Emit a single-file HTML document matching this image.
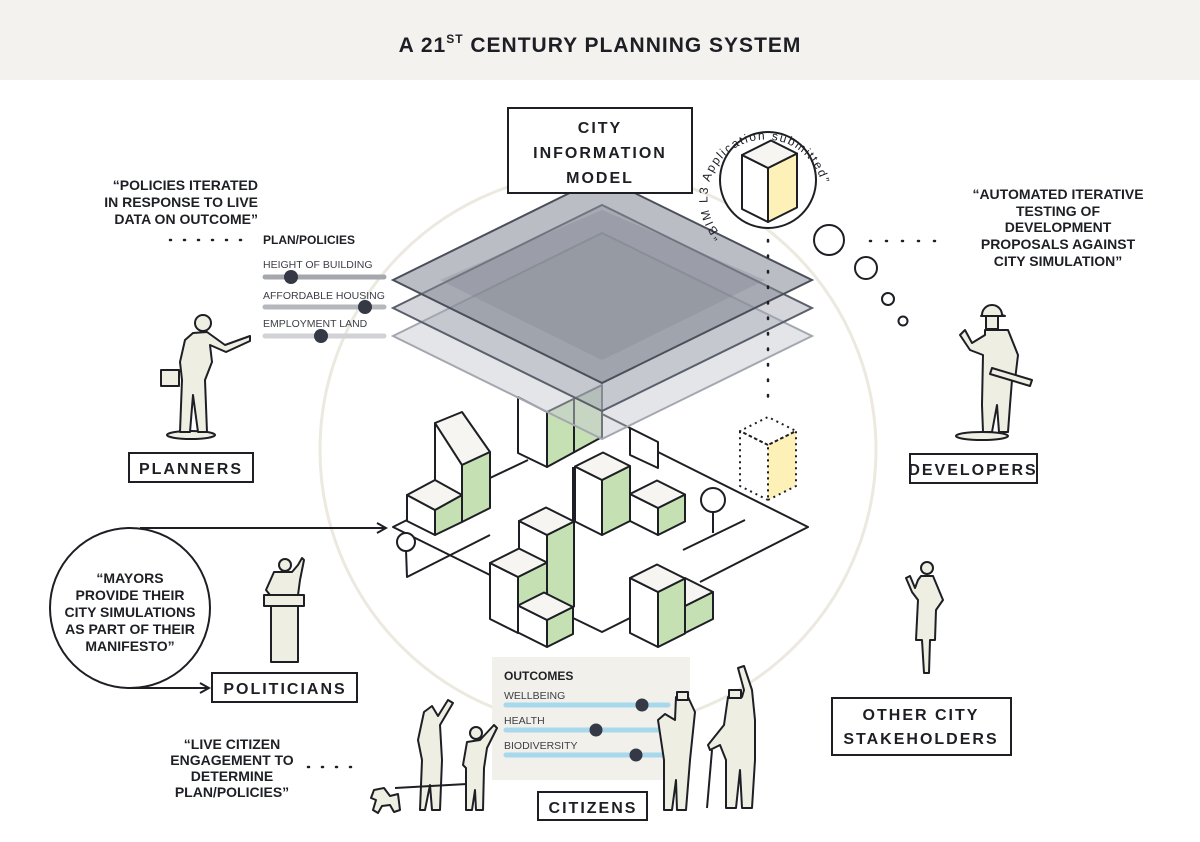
<!DOCTYPE html>
<html><head><meta charset="utf-8"><style>
html,body{margin:0;padding:0;background:#fff;}
svg{display:block;font-family:"Liberation Sans",sans-serif;}
.q{font-weight:bold;font-size:14px;fill:#1d1f24;}
.lb{font-weight:bold;font-size:16px;letter-spacing:2px;fill:#1d1f24;}
.s{font-size:10.5px;fill:#3c3f46;}
.k{stroke:#1d1f24;stroke-width:2;stroke-linejoin:round;fill:none;}
.w{fill:#fff;stroke:#1d1f24;stroke-width:2;stroke-linejoin:round;}
.g{fill:#c5e1b3;stroke:#1d1f24;stroke-width:2;stroke-linejoin:round;}
.t{fill:#f6f5f1;stroke:#1d1f24;stroke-width:2;stroke-linejoin:round;}
.p{fill:#efeee3;stroke:#1d1f24;stroke-width:2;stroke-linejoin:round;}
</style></head><body>
<svg width="1200" height="842" viewBox="0 0 1200 842">
<defs>
<marker id="ar" markerWidth="12" markerHeight="12" refX="10" refY="6" orient="auto" markerUnits="userSpaceOnUse"><path d="M1,1 L10,6 L1,11" fill="none" stroke="#1d1f24" stroke-width="2"/></marker>
<path id="arc" d="M722,236 A58,58 0 1 1 818,222"/>
</defs>
<rect x="0" y="0" width="1200" height="80" fill="#f3f2ee"/>
<text x="600" y="52" text-anchor="middle" font-weight="bold" font-size="21" fill="#1d1f24" letter-spacing="1">A 21<tspan font-size="12" dy="-9">ST</tspan><tspan dy="9"> CENTURY PLANNING SYSTEM</tspan></text>

<circle cx="598" cy="450" r="278" fill="none" stroke="#ebe9e0" stroke-width="3"/>

<!-- ground lines -->
<g class="k">
<line x1="490" y1="478" x2="528" y2="460"/>
<polyline points="407,520 393,527 490,575"/>
<polyline points="406,550 407,577 490,535"/>
<polyline points="573,618 602,632 630,618"/>
<polyline points="700,582 808,527 658,452"/>
<line x1="630" y1="428" x2="602" y2="414"/>
<line x1="683" y1="550" x2="745" y2="520"/>
<line x1="713" y1="512" x2="713" y2="533"/>
<line x1="573" y1="467" x2="573" y2="523"/>
<line x1="140" y1="528" x2="386" y2="528" marker-end="url(#ar)"/>
<line x1="130" y1="688" x2="209" y2="688" marker-end="url(#ar)"/>
</g>
<circle cx="406" cy="542" r="9" class="w"/>
<circle cx="713" cy="500" r="12" class="w"/>
<polygon points="630,428 658,442 658,468 630,455" class="w"/>

<!-- building 1 -->
<polygon points="435,423 462,465 462,495 435,510 435,480" class="w"/>
<polygon points="435,423 462,412 490,452 462,465" class="t"/>
<polygon points="462,465 490,452 490,508 462,522" class="g"/>
<polygon points="407,495 435,510 435,535 407,521" class="w"/>
<polygon points="435,510 462,495 462,522 435,535" class="g"/>
<polygon points="407,495 435,480 462,495 435,510" class="t"/>

<!-- building under planes -->
<polygon points="518,397 547,412 547,467 518,453" class="w"/>
<polygon points="547,412 602,385 602,437 547,467" class="g"/>
<line x1="574" y1="398" x2="574" y2="453" class="k"/>

<!-- box A, B -->
<polygon points="602,535 575,521.5 575,466.5 602,480" class="w"/>
<polygon points="602,535 630,521 630,466 602,480" class="g"/>
<polygon points="602,480 575,466.5 603,452.5 630,466" class="t"/>
<polygon points="658,535 630,521 630,494 658,508" class="w"/>
<polygon points="658,535 685,521.5 685,494.5 658,508" class="g"/>
<polygon points="658,508 630,494 657,480.5 685,494.5" class="t"/>

<!-- stair building -->
<polygon points="547,620 519,606 519,521 547,535" class="w"/>
<polygon points="547,620 574,606.5 574,521.5 547,535" class="g"/>
<polygon points="547,535 519,521 546,507.5 574,521.5" class="t"/>
<polygon points="518,633 490,619 490,563 518,577" class="w"/>
<polygon points="518,633 547,618.5 547,562.5 518,577" class="g"/>
<polygon points="518,577 490,563 519,548.5 547,562.5" class="t"/>
<polygon points="547,647 518,632.5 518,605.5 547,620" class="w"/>
<polygon points="547,647 573,634 573,607 547,620" class="g"/>
<polygon points="547,620 518,605.5 544,592.5 573,607" class="t"/>

<!-- right bottom -->
<polygon points="685,633 713,619 713,592 685,606" class="g"/>
<polygon points="685,606 713,592 685,578" class="t"/>
<polygon points="658,647 630,633 630,578 658,592" class="w"/>
<polygon points="658,647 685,633.5 685,578.5 658,592" class="g"/>
<polygon points="658,592 630,578 657,564.5 685,578.5" class="t"/>

<!-- planes -->
<polygon points="393,336 602,233 812,336 602,439" fill="rgba(200,203,210,0.5)" stroke="#a3a8b0" stroke-width="2"/>
<polygon points="393,308 602,205 812,308 602,411" fill="rgba(160,165,175,0.45)" stroke="#5a5f6b" stroke-width="2"/>
<polygon points="393,280 602,177 812,280 602,383" fill="rgba(130,135,146,0.55)" stroke="#4a4f5a" stroke-width="2"/>
<polygon points="440,280 602,210 765,280 602,360" fill="rgba(120,125,135,0.25)"/>

<!-- CIM box -->
<rect x="508" y="108" width="184" height="85" fill="#fff" stroke="#1d1f24" stroke-width="2"/>
<text x="600" y="133" text-anchor="middle" class="lb" font-size="19">CITY</text>
<text x="600" y="158" text-anchor="middle" class="lb" font-size="19">INFORMATION</text>
<text x="600" y="183" text-anchor="middle" class="lb" font-size="19">MODEL</text>

<!-- BIM -->
<circle cx="768" cy="180" r="48" fill="#fff" stroke="#1d1f24" stroke-width="2"/>
<polygon points="768,222 742,209 742,155 768,168" class="w"/>
<polygon points="768,222 797,207.5 797,153.5 768,168" fill="#fdf1b8" stroke="#1d1f24" stroke-width="2" stroke-linejoin="round"/>
<polygon points="768,168 742,155 771,140.5 797,153.5" class="t"/>
<text font-size="12" fill="#1d1f24" letter-spacing="1.6"><textPath href="#arc">“BIM L3 Application submitted”</textPath></text>
<circle cx="829" cy="240" r="15" fill="#fff" stroke="#1d1f24" stroke-width="2"/>
<circle cx="866" cy="268" r="11" fill="#fff" stroke="#1d1f24" stroke-width="2"/>
<circle cx="888" cy="299" r="6" fill="#fff" stroke="#1d1f24" stroke-width="2"/>
<circle cx="903" cy="321" r="4.5" fill="#fff" stroke="#1d1f24" stroke-width="2"/>
<line x1="768" y1="240" x2="768" y2="410" stroke="#1d1f24" stroke-width="2.5" stroke-dasharray="1.5 14" stroke-linecap="round"/>
<g stroke="#1d1f24" stroke-width="2" stroke-dasharray="2 4" stroke-linejoin="round">
<polygon points="768,500 796,486 796,431 768,445" fill="#fdf1b8"/>
<polygon points="768,500 740,486 740,431 768,445" fill="none"/>
<polygon points="768,445 740,431 768,417 796,431" fill="none"/>
</g>

<!-- left quote & sliders -->
<text x="258" y="190" text-anchor="end" class="q">“POLICIES ITERATED</text>
<text x="258" y="207" text-anchor="end" class="q">IN RESPONSE TO LIVE</text>
<text x="258" y="224" text-anchor="end" class="q">DATA ON OUTCOME”</text>
<line x1="170" y1="240" x2="250" y2="240" stroke="#1d1f24" stroke-width="2.5" stroke-dasharray="1 13" stroke-linecap="round"/>
<text x="263" y="244" font-weight="bold" font-size="12" fill="#1d1f24">PLAN/POLICIES</text>
<text x="263" y="268" class="s">HEIGHT OF BUILDING</text>
<line x1="265" y1="277" x2="384" y2="277" stroke="#a4a7ac" stroke-width="5" stroke-linecap="round"/>
<circle cx="291" cy="277" r="7" fill="#353845"/>
<text x="263" y="299" class="s">AFFORDABLE HOUSING</text>
<line x1="265" y1="307" x2="384" y2="307" stroke="#b4b7bb" stroke-width="5" stroke-linecap="round"/>
<circle cx="365" cy="307" r="7" fill="#353845"/>
<text x="263" y="327" class="s">EMPLOYMENT LAND</text>
<line x1="265" y1="336" x2="384" y2="336" stroke="#d0d2d5" stroke-width="5" stroke-linecap="round"/>
<circle cx="321" cy="336" r="7" fill="#353845"/>

<!-- planner figure -->
<ellipse cx="191" cy="435" rx="24" ry="4" class="p"/>
<circle cx="203" cy="323" r="8" class="p"/>
<polygon points="193,333 207,332 225,345 250,336 250,341 226,352 210,345 212,362 205,380 207,432 198,432 193,395 190,432 180,432 182,380 180,362 185,340" class="p"/>
<rect x="161" y="370" width="18" height="16" class="p"/>

<!-- developer figure -->
<ellipse cx="982" cy="436" rx="26" ry="4" class="p"/>
<path d="M982,315 a10,10 0 0 1 20,0 l3,1 l-24,0 z" class="p"/>
<rect x="986" y="316" width="12" height="13" class="p"/>
<polygon points="985,330 1008,330 1018,355 1015,380 1012,380 1010,405 1008,432 999,432 997,405 992,432 983,432 982,405 983,355 970,350 960,335 965,330 972,343 985,335" class="p"/>
<polygon points="992,368 1032,380 1030,386 990,374" class="p"/>

<!-- stakeholder figure -->
<circle cx="927" cy="568" r="6" class="p"/>
<polygon points="921,576 933,576 943,600 936,610 935,640 930,640 929,673 924,673 922,640 916,640 918,600 912,592 906,578 910,576 915,588 918,580" class="p"/>

<!-- politician -->
<circle cx="285" cy="565" r="6" class="p"/>
<polygon points="274,572 292,572 298,565 302,558 304,560 300,580 298,595 270,595 266,590" class="p"/>
<rect x="264" y="595" width="40" height="11" class="p"/>
<rect x="271" y="606" width="27" height="56" class="p"/>

<!-- labels -->
<rect x="129" y="453" width="124" height="29" fill="#fff" stroke="#1d1f24" stroke-width="2"/>
<text x="191" y="474" text-anchor="middle" class="lb">PLANNERS</text>
<rect x="910" y="454" width="127" height="29" fill="#fff" stroke="#1d1f24" stroke-width="2"/>
<text x="973" y="475" text-anchor="middle" class="lb">DEVELOPERS</text>
<rect x="212" y="673" width="145" height="29" fill="#fff" stroke="#1d1f24" stroke-width="2"/>
<text x="285" y="694" text-anchor="middle" class="lb">POLITICIANS</text>
<rect x="832" y="698" width="179" height="57" fill="#fff" stroke="#1d1f24" stroke-width="2"/>
<text x="921" y="720" text-anchor="middle" class="lb">OTHER CITY</text>
<text x="921" y="744" text-anchor="middle" class="lb">STAKEHOLDERS</text>
<rect x="538" y="792" width="109" height="28" fill="#fff" stroke="#1d1f24" stroke-width="2"/>
<text x="593" y="813" text-anchor="middle" class="lb">CITIZENS</text>

<!-- mayors circle -->
<circle cx="130" cy="608" r="80" fill="#fff" stroke="#1d1f24" stroke-width="2"/>
<text x="130" y="583" text-anchor="middle" class="q">“MAYORS</text>
<text x="130" y="600" text-anchor="middle" class="q">PROVIDE THEIR</text>
<text x="130" y="617" text-anchor="middle" class="q">CITY SIMULATIONS</text>
<text x="130" y="634" text-anchor="middle" class="q">AS PART OF THEIR</text>
<text x="130" y="651" text-anchor="middle" class="q">MANIFESTO”</text>

<!-- developer quote -->
<text x="1058" y="199" text-anchor="middle" class="q">“AUTOMATED ITERATIVE</text>
<text x="1058" y="216" text-anchor="middle" class="q">TESTING OF</text>
<text x="1058" y="232" text-anchor="middle" class="q">DEVELOPMENT</text>
<text x="1058" y="249" text-anchor="middle" class="q">PROPOSALS AGAINST</text>
<text x="1058" y="266" text-anchor="middle" class="q">CITY SIMULATION”</text>
<line x1="870" y1="241" x2="950" y2="241" stroke="#1d1f24" stroke-width="2.5" stroke-dasharray="1 15" stroke-linecap="round"/>

<!-- citizens quote -->
<text x="232" y="749" text-anchor="middle" class="q">“LIVE CITIZEN</text>
<text x="232" y="765" text-anchor="middle" class="q">ENGAGEMENT  TO</text>
<text x="232" y="781" text-anchor="middle" class="q">DETERMINE</text>
<text x="232" y="797" text-anchor="middle" class="q">PLAN/POLICIES”</text>
<line x1="308" y1="767" x2="360" y2="767" stroke="#1d1f24" stroke-width="2.5" stroke-dasharray="1 13" stroke-linecap="round"/>

<!-- outcomes -->
<rect x="492" y="657" width="198" height="123" fill="#f1f0eb"/>
<text x="504" y="680" font-weight="bold" font-size="12" fill="#1d1f24">OUTCOMES</text>
<text x="504" y="699" class="s">WELLBEING</text>
<line x1="506" y1="705" x2="668" y2="705" stroke="#a8d8ec" stroke-width="5" stroke-linecap="round"/>
<circle cx="642" cy="705" r="6.5" fill="#353845"/>
<text x="504" y="724" class="s">HEALTH</text>
<line x1="506" y1="730" x2="668" y2="730" stroke="#a8d8ec" stroke-width="5" stroke-linecap="round"/>
<circle cx="596" cy="730" r="6.5" fill="#353845"/>
<text x="504" y="749" class="s">BIODIVERSITY</text>
<line x1="506" y1="755" x2="668" y2="755" stroke="#a8d8ec" stroke-width="5" stroke-linecap="round"/>
<circle cx="636" cy="755" r="6.5" fill="#353845"/>

<!-- citizens figures -->
<polygon points="424,712 432,706 438,716 448,700 453,703 440,725 442,760 440,810 432,810 430,785 425,810 420,810 422,760 418,740" class="p"/>
<line x1="395" y1="788" x2="467" y2="784" class="k"/>
<polygon points="374,790 384,788 390,796 398,794 400,810 394,812 390,805 382,806 378,813 373,810 376,800 371,798" class="p"/>
<circle cx="476" cy="733" r="6" class="p"/>
<polygon points="467,742 480,740 494,725 497,728 487,748 484,768 483,810 476,810 475,790 472,810 466,810 466,768 463,765" class="p"/>
<polygon points="676,697 688,697 695,712 690,760 686,810 677,810 676,780 672,810 664,810 664,760 658,720 665,714 675,720" class="p"/>
<rect x="677" y="692" width="11" height="8" class="p"/>
<line x1="712" y1="750" x2="707" y2="808" class="k" stroke-width="3"/>
<polygon points="728,697 742,697 744,690 738,668 744,666 752,690 755,720 755,760 752,808 742,808 740,770 736,808 726,808 726,760 720,745 710,750 708,745 724,725" class="p"/>
<rect x="729" y="690" width="12" height="8" class="p"/>
</svg>
</body></html>
